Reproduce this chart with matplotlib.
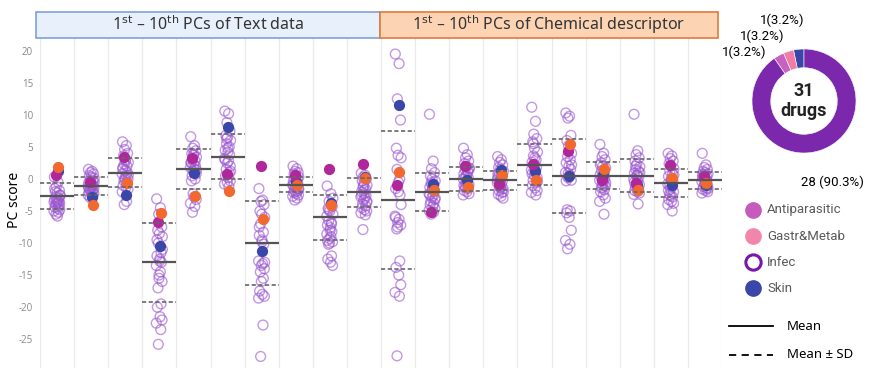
import numpy as np
import matplotlib.pyplot as plt
from matplotlib.patches import Rectangle
from matplotlib.lines import Line2D

# PC scores per column: 10 text PCs then 10 chemical-descriptor PCs
infec = [
    [0.3, -0.5, -1.2, -1.8, -2.0, -2.2, -2.5, -2.8, -3.0, -3.2, -3.4, -3.5, -3.6, -3.7,
     -3.8, -3.9, -4.0, -4.2, -4.4, -4.6, -4.8, -5.0, -5.2, -5.5, -5.8, -1.5, -2.6, -3.3],
    [1.5, 1.2, 1.0, 0.8, 0.5, 0.3, 0.1, -0.2, -0.4, -0.6, -0.8, -1.0, -1.1, -1.2,
     -1.3, -1.5, -1.6, -1.8, -2.0, -2.1, -2.3, -2.5, -2.7, -2.9, -0.9, -1.4, -0.5, -1.9],
    [5.8, 5.2, 4.6, 4.0, 3.6, 3.0, 2.6, 2.3, 2.0, 1.6, 1.3, 1.0, 0.8, 0.5,
     0.2, 0.0, -0.3, -0.6, -1.0, -1.3, -1.6, -2.0, -3.5, -4.0, 2.8, 1.8, 0.6, -0.1],
    [-3.1, -4.5, -5.5, -7.5, -8.0, -8.5, -9.0, -10.0, -11.5, -12.0, -12.5, -13.0, -13.5, -14.5,
     -15.5, -16.0, -17.0, -19.5, -20.0, -21.5, -22.0, -22.5, -23.5, -25.8, -12.8, -9.5, -11.0, -15.0],
    [6.6, 5.2, 4.8, 4.4, 4.0, 3.7, 3.4, 3.0, 2.8, 2.5, 2.2, 2.0, 1.8, 1.5,
     1.2, 0.8, 0.5, 0.0, -0.3, -2.8, -3.2, -3.8, -4.3, -5.2, 3.9, 2.6, 1.4, -2.3],
    [10.6, 10.2, 8.8, 7.5, 6.8, 6.5, 6.0, 5.5, 5.0, 4.5, 4.2, 3.8, 3.2, 2.8,
     2.5, 2.0, 1.5, 1.0, 0.5, 0.2, -0.3, -0.8, -1.2, 6.3, 4.8, 3.0, 1.2, -0.5],
    [-1.5, -3.3, -3.5, -4.0, -5.0, -5.5, -6.0, -7.0, -8.3, -8.8, -9.5, -10.2, -12.8, -13.2,
     -13.5, -14.0, -14.5, -15.5, -17.5, -18.0, -18.3, -18.6, -22.8, -27.7, -9.8, -7.5, -13.0, -16.0],
    [2.0, 1.6, 1.2, 1.0, 0.8, 0.5, 0.3, 0.1, -0.1, -0.3, -0.5, -0.7, -0.9, -1.1,
     -1.3, -1.5, -1.7, -1.9, -2.1, -2.3, -2.5, -2.7, -3.0, -3.3, -0.4, -1.0, -1.6, -2.0],
    [-1.1, -2.3, -3.5, -4.3, -4.6, -5.0, -5.5, -6.5, -7.0, -7.2, -7.6, -8.2, -8.6, -9.0,
     -9.3, -9.8, -10.2, -12.0, -12.5, -13.0, -13.5, -5.8, -6.8, -4.8, -8.0, -9.6, -3.0, -10.0],
    [0.9, 0.6, 0.3, 0.0, -0.3, -0.6, -1.0, -1.3, -1.6, -2.0, -2.3, -2.6, -2.8, -3.0,
     -3.3, -3.6, -3.9, -4.2, -4.5, -4.8, -5.0, -5.3, -5.6, -7.9, -1.8, -2.5, -3.5, -1.1],
    [19.5, 18.0, 12.5, 9.2, 4.8, 3.7, 3.3, 1.5, 0.0, -1.5, -2.0, -2.5, -5.8, -6.3,
     -6.8, -7.2, -7.8, -12.8, -13.8, -15.0, -16.5, -17.7, -18.3, -27.6, -0.5, -6.0, -4.0, -7.5],
    [10.1, 2.8, 1.6, 1.0, 0.5, 0.0, -0.3, -0.6, -1.0, -1.3, -1.6, -2.0, -2.3, -2.6,
     -2.9, -3.2, -3.5, -3.8, -4.0, -4.3, -4.6, -4.9, -5.2, -5.5, -1.5, -2.5, -3.0, -0.8],
    [4.8, 3.8, 3.3, 2.8, 2.4, 2.0, 1.7, 1.4, 1.1, 0.8, 0.5, 0.2, 0.0, -0.3,
     -0.6, -0.9, -1.2, -1.5, -1.8, -2.0, -2.3, -2.5, 1.2, 0.3, -0.5, -1.0, 1.6, -1.4],
    [3.5, 3.0, 2.6, 2.2, 1.8, 1.5, 1.2, 0.9, 0.6, 0.3, 0.0, -0.3, -0.6, -0.9,
     -1.2, -1.5, -1.8, -2.1, -2.4, -2.7, -3.0, -0.1, 0.4, -1.0, -1.4, 0.8, -2.0, -0.5],
    [11.2, 9.0, 7.0, 6.3, 5.8, 4.8, 4.2, 3.6, 3.0, 2.6, 2.2, 1.8, 1.4, 1.0,
     0.6, 0.2, -0.2, -0.6, -1.0, -1.4, -1.8, -2.1, -2.5, 5.5, 3.3, 0.8, -0.4, 1.6],
    [10.3, 9.8, 9.5, 6.8, 6.0, 5.2, 4.0, 3.5, 3.0, 2.5, 2.0, 1.5, 1.0, 0.6,
     0.2, -0.2, -4.8, -5.0, -5.3, -6.0, -8.0, -9.6, -10.2, -10.9, 0.3, -0.3, 2.2, 0.9],
    [5.4, 4.0, 3.5, 3.0, 2.5, 2.0, 1.7, 1.3, 1.0, 0.7, 0.4, 0.1, -0.2, -0.5,
     -0.8, -1.1, -1.4, -1.7, -2.0, -2.5, -3.0, -3.5, -5.5, 0.0, 0.8, 2.2, -0.6, -1.3],
    [10.1, 4.4, 3.8, 3.3, 2.8, 2.3, 1.9, 1.5, 1.2, 0.9, 0.6, 0.3, 0.0, -0.3,
     -0.6, -0.9, -1.2, -1.5, -1.8, -2.0, -2.2, -2.4, -3.9, 2.0, 0.5, -0.5, 1.0, -1.0],
    [4.0, 3.6, 3.2, 2.8, 2.4, 2.0, 1.6, 1.2, 0.8, 0.4, 0.0, -0.4, -0.8, -1.2,
     -1.6, -2.0, -2.4, -2.8, -3.2, -3.5, -3.8, -4.0, -5.0, -1.0, -0.2, -1.8, 0.6, -2.6],
    [4.0, 2.2, 1.8, 1.5, 1.2, 1.0, 0.8, 0.6, 0.4, 0.2, 0.0, -0.2, -0.4, -0.6,
     -0.8, -1.0, -1.2, -1.4, -1.6, -1.8, -2.0, -2.2, -0.3, 0.3, -0.9, 0.7, -1.5, 0.1],
]
antiparasitic = [0.6, -0.4, 3.5, -6.7, 3.2, 0.8, 2.0, 0.6, 1.5, 2.4,
                 -1.0, -5.1, 2.0, -0.8, 2.4, 4.4, -0.2, -0.7, 2.2, 0.4]
gastr = [1.9, -4.1, -0.7, -5.3, -2.6, -1.9, -6.2, -0.9, -4.1, 0.2,
         1.1, -1.7, -1.2, 0.6, -0.2, 5.4, 1.6, -1.7, 0.1, -0.6]
skin = [1.2, -2.8, -2.5, -10.5, 1.0, 8.1, -11.3, -0.5, -3.8, 0.3,
        11.5, -0.8, -0.2, 1.4, 1.3, 0.5, 0.6, -1.0, -0.9, -1.0]
means = [-2.7, -1.1, 1.0, -13.0, 1.6, 3.5, -10.0, -0.9, -6.0, -2.1,
         -3.3, -2.0, 0.0, -0.2, 2.2, 0.5, 0.5, 0.5, -0.6, -0.2]
sds = [2.0, 1.35, 2.3, 6.15, 3.1, 3.5, 6.6, 1.2, 3.5, 2.3,
       10.8, 3.0, 1.9, 1.5, 3.2, 5.8, 2.1, 2.6, 2.15, 1.35]

# drug counts per category for the donut (Skin, Gastr&Metab, Antiparasitic, Infec)
donut_values = [1, 1, 1, 28]
n_drugs = sum(donut_values)

# fixed horizontal spread so overlapping circles stay visible
jitter = [-0.08, 0.03, -0.02, 0.07, -0.05, 0.00, 0.09, -0.03, 0.05, -0.07,
          0.01, 0.06, -0.09, 0.03, -0.01, 0.08, -0.04, 0.05, -0.06, 0.02,
          0.08, -0.09, 0.04, -0.03, 0.01, -0.07, 0.09, -0.01]

c_infec = "#9a55cf"
c_anti = "#b0279c"
c_gastr = "#f2692f"
c_skin = "#3a46a8"

fig = plt.figure(figsize=(8.69, 3.68), dpi=100)
W, H = 869, 368


def fx(px):
    return px / W


def fy(py):
    return 1 - py / H


ax = fig.add_axes([fx(40), 0, fx(722) - fx(40), fy(38)])
ax.set_xlim(-0.5, 19.5)
ax.set_ylim(-29.5, 22.0)
for s in ax.spines.values():
    s.set_visible(False)
for b in np.arange(-0.5, 20, 1):
    ax.axvline(b, color="#ebebeb", lw=1.0, zorder=0)

for i in range(20):
    vals = infec[i]
    xs = [i + jitter[k % len(jitter)] for k in range(len(vals))]
    ax.scatter(xs, vals, s=50, facecolors="none", edgecolors=c_infec,
               linewidths=1.0, alpha=0.6, zorder=2)
    ax.scatter([i + 0.02], [skin[i]], s=50, color=c_skin, zorder=3)
    ax.scatter([i - 0.03], [antiparasitic[i]], s=50, color=c_anti, zorder=3)
    ax.scatter([i + 0.04], [gastr[i]], s=50, color=c_gastr, zorder=4)
    ax.hlines(means[i], i - 0.5, i + 0.5, color="#555555", lw=1.6, zorder=5)
    ax.hlines([means[i] + sds[i], means[i] - sds[i]], i - 0.5, i + 0.5,
              color="#666666", lw=1.2, linestyles=(0, (2.5, 1.5)), zorder=5)

ax.set_xticks([])
ax.set_yticks(range(-25, 21, 5))
ax.set_yticklabels([str(t) for t in range(-25, 21, 5)], color="#8a8a8a",
                   fontsize=7, family="Open Sans")
ax.tick_params(axis="y", length=0, pad=5)
fig.text(fx(15), fy(200), "PC score", rotation=90, ha="center", va="center",
         fontsize=10, family="Noto Sans")

# header boxes
fig.patches.append(Rectangle((fx(36), fy(38)), fx(380) - fx(36), fy(12) - fy(38),
                             transform=fig.transFigure, facecolor="#e8f0fb",
                             edgecolor="#7ea1d9", lw=1.2))
fig.patches.append(Rectangle((fx(380), fy(38)), fx(718) - fx(380), fy(12) - fy(38),
                             transform=fig.transFigure, facecolor="#fcd4b4",
                             edgecolor="#e07a3c", lw=1.2))
fig.text(fx(208), fy(25), r"1$^{\mathrm{st}}$ – 10$^{\mathrm{th}}$ PCs of Text data",
         ha="center", va="center", fontsize=11.5, color="#333333", family="Noto Sans")
fig.text(fx(549), fy(25), r"1$^{\mathrm{st}}$ – 10$^{\mathrm{th}}$ PCs of Chemical descriptor",
         ha="center", va="center", fontsize=11.5, color="#333333", family="Noto Sans")

# donut of drug categories
dax = fig.add_axes([fx(739), fy(166), fx(130), 130 / H])
dax.pie(donut_values, colors=[c_skin, "#f07ca8", "#c563be", "#7b28ad"],
        startangle=90, counterclock=True,
        wedgeprops=dict(width=0.36, edgecolor="white", linewidth=0.4))
dax.set_aspect("equal")
dax.text(0, 0, f"{n_drugs}\ndrugs", ha="center", va="center", fontsize=13,
         fontweight="bold", color="#222222", family="Roboto", linespacing=1.1)
for (px, py) in [(782, 20), (762, 36), (744, 52)]:
    fig.text(fx(px), fy(py), f"{donut_values[0]}({donut_values[0] / n_drugs * 100:.1f}%)",
             ha="center", va="center", fontsize=9.5, family="Roboto")
fig.text(fx(832), fy(182), f"{donut_values[3]} ({donut_values[3] / n_drugs * 100:.1f}%)",
         ha="center", va="center", fontsize=9.5, family="Roboto")

# category legend
leg_items = [("Antiparasitic", "#c65bbd", "#c65bbd", 210),
             ("Gastr&Metab", "#f285aa", "#f285aa", 236),
             ("Infec", "white", "#7a17a8", 262),
             ("Skin", c_skin, c_skin, 288)]
for name, fc, ec, py in leg_items:
    fig.add_artist(Line2D([fx(753)], [fy(py)], marker="o", markersize=11,
                          markerfacecolor=fc, markeredgecolor=ec,
                          markeredgewidth=2.2 if fc == "white" else 1.0,
                          transform=fig.transFigure))
    fig.text(fx(767), fy(py), name, ha="left", va="center", fontsize=9.5,
             color="#5a5a5a", family="Roboto")

fig.add_artist(Line2D([fx(729), fx(773)], [fy(326), fy(326)], color="black", lw=1.3,
                      transform=fig.transFigure))
fig.text(fx(787), fy(326), "Mean", ha="left", va="center", fontsize=9.5, family="Noto Sans")
fig.add_artist(Line2D([fx(729), fx(773)], [fy(355), fy(355)], color="black", lw=1.3,
                      linestyle=(0, (4, 3)), transform=fig.transFigure))
fig.text(fx(787), fy(355), "Mean \u00b1 SD", ha="left", va="center", fontsize=9.5,
         family="Noto Sans")

fig.savefig("out.png", dpi=100)
